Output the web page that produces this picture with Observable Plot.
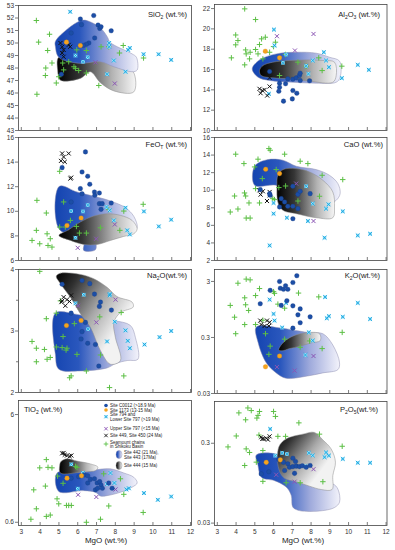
<!DOCTYPE html>
<html><head><meta charset="utf-8">
<script src="https://cdn.jsdelivr.net/npm/d3@7"></script>
<script src="https://cdn.jsdelivr.net/npm/@observablehq/plot@0.6"></script>
<style>
body{margin:0;background:#fff;font-family:"Liberation Sans",Arial,sans-serif;}
#chart{position:relative;width:395px;height:550px;overflow:hidden;background:#fff;}
.lab{position:absolute;font-size:7.6px;color:#222;white-space:nowrap;line-height:8px;}
.lab sub{font-size:5px;vertical-align:-1.5px;line-height:0;}
.xl{position:absolute;font-size:8px;color:#222;white-space:nowrap;line-height:8px;transform:translateX(-50%);}
</style></head>
<body><div id="chart"></div>
<script>
// ---------- tick values ----------
const MgO_ticks = [3,4,5,6,7,8,9,10,11,12];
const SiO2_ticks = [43,44,45,46,47,48,49,50,51,52,53];
const Al2O3_ticks = [10,12,14,16,18,20,22];
const FeO_ticks = [6,8,10,12,14,16];
const CaO_ticks = [2,4,6,8,10,12,14,16];
const Na2O_ticks = [2,3,4];
const Na2O_minor = [2.5,3.5];
const K2O_ticks = [0.03,0.3,3];
const TiO2_ticks = [0.6,6];
const P2O5_ticks = [0.03,0.3];

const panelLabels = ["SiO<sub>2</sub> (wt.%)","Al<sub>2</sub>O<sub>3</sub> (wt.%)","FeO<sub>T</sub> (wt.%)","CaO (wt.%)","Na<sub>2</sub>O(wt.%)","K<sub>2</sub>O(wt.%)","TiO<sub>2</sub> (wt.%)","P<sub>2</sub>O<sub>5</sub>(wt.%)"];
const xLabel = "MgO (wt.%)";
const legendLabels = ["Site C0012 (>18.9 Ma)","Site 1173 (13-15 Ma)","Site 794 and","Lower Site 797 (>19 Ma)","Upper Site 797 (<15 Ma)","Site 449, Site 450 (24 Ma)","Seamount chains","in Shikoku Basin","Site 442 (21 Ma),","Site 443 (17Ma)","Site 444 (15 Ma)"];

// ---------- SiO2 ----------
const SiO2_c0012 = [[6.14,51.92],[6.2,51.47],[6.85,52.2],[7.08,51.44],[7.17,51.17],[7.24,51.3],[7.78,50.98],[5.65,50.8],[6.9,50.4],[6.59,50.0],[6.46,49.9],[6.3,49.8],[5.13,47.5]];
const SiO2_s1173 = [[5.4,50.07],[6.14,49.8]];
const SiO2_s794 = [[5.6,52.5],[6.53,48.86],[6.28,48.5],[5.88,49.0],[7.67,50.0],[7.67,49.7],[7.92,48.6],[7.56,47.5],[8.54,47.7],[8.68,49.45],[8.77,49.6],[9.5,49.1],[10.3,49.1],[10.97,48.65]];
const SiO2_u797 = [[6.94,48.45],[7.97,46.76]];
const SiO2_s449 = [[5.08,50.0],[5.17,49.7],[5.25,49.45],[5.52,49.85],[5.6,49.7],[5.17,49.2],[5.25,48.9]];
const SiO2_smt = [[3.8,51.8],[3.92,50.07],[4.5,50.7],[4.4,49.4],[4.63,48.4],[4.3,48.0],[4.28,47.4],[4.86,46.8],[3.83,45.9],[4.99,47.3],[5.2,48.4],[5.25,47.85],[5.52,48.5],[5.8,48.1],[5.88,47.97],[6.05,47.8],[6.46,47.6],[6.46,49.4],[5.95,49.45],[7.24,49.7],[7.65,49.7],[8.22,49.2],[8.42,49.8],[7.12,46.6],[9.5,48.8]];
const SiO2_f442 = [[4.81,50.12],[5.52,51.2],[6.23,51.82],[6.59,51.74],[7.21,51.2],[7.56,50.53],[7.74,50.04],[8.89,49.13],[9.12,48.86],[9.16,47.84],[8.89,47.7],[7.92,48.1],[7.21,48.5],[6.05,48.38],[4.99,48.86],[4.81,49.72]];
const SiO2_f444 = [[4.99,48.86],[5.96,48.65],[7.21,48.59],[8.27,48.11],[8.95,47.7],[8.98,46.09],[7.92,46.17],[7.21,46.82],[6.67,47.7],[6.14,47.17],[5.08,47.03],[4.93,47.84]];

// ---------- Al2O3 ----------
const Al2O3_c0012 = [[5.79,15.8],[6.32,14.66],[6.64,14.6],[6.76,15.08],[7.03,15.05],[7.21,15.18],[7.38,15.41],[7.42,15.64],[7.42,14.92],[7.92,14.89],[6.32,14.26],[6.28,13.87],[7.03,13.93],[7.24,13.67],[6.53,12.89],[7.0,13.11]];
const Al2O3_s1173 = [[5.56,17.8],[6.32,17.15]];
const Al2O3_s794 = [[6.02,19.93],[6.05,18.36],[6.5,16.66],[6.67,17.48],[7.74,16.36],[7.86,15.57],[8.09,16.89],[8.68,17.7],[8.8,16.89],[8.95,16.23],[9.64,15.15],[10.49,16.46],[11.08,15.97],[5.75,13.61]];
const Al2O3_u797 = [[6.18,19.28],[7.14,17.87],[8.13,19.5]];
const Al2O3_s449 = [[5.25,14.1],[5.4,13.93],[5.31,13.67],[5.52,14.0],[5.66,13.44],[5.79,14.33],[5.79,15.18]];
const Al2O3_smt = [[4.46,21.97],[5.04,20.92],[3.98,19.4],[4.1,18.85],[3.98,18.43],[3.75,17.15],[4.51,17.93],[4.54,17.54],[4.72,17.05],[4.75,17.7],[5.04,17.97],[5.25,18.46],[5.36,19.02],[5.56,19.18],[5.17,17.54],[4.46,16.46],[5.79,17.7],[6.0,18.26],[6.1,18.69],[6.64,17.48],[6.32,15.41],[7.3,16.72],[7.74,16.33],[8.41,17.15],[8.59,15.9],[9.64,16.33],[5.43,17.05]];
const Al2O3_f442 = [[4.86,16.07],[5.25,16.95],[6.14,17.54],[7.21,17.7],[8.27,17.61],[8.98,17.21],[9.52,16.82],[9.55,15.25],[9.34,14.75],[8.27,14.66],[7.03,14.75],[5.79,14.92],[5.17,15.25]];
const Al2O3_f444 = [[5.25,15.9],[5.43,16.39],[5.96,16.72],[6.85,16.89],[7.74,16.95],[8.63,16.89],[9.25,16.72],[9.34,15.41],[9.16,14.75],[7.92,14.85],[6.85,15.08],[5.96,15.18],[5.34,15.41]];

// ---------- FeOT ----------
const FeO_c0012 = [[6.41,14.83],[5.17,13.55],[6.23,13.2],[6.53,12.85],[6.64,12.2],[6.14,11.84],[6.23,11.43],[6.89,11.57],[6.91,11.3],[7.15,11.49],[7.15,10.62],[7.3,10.62],[7.24,10.16],[7.78,10.67],[5.65,10.76]];
const FeO_s1173 = [[5.43,8.85],[6.18,9.45]];
const FeO_s794 = [[5.65,10.02],[6.28,9.99],[6.53,10.51],[5.88,7.85],[7.53,10.35],[7.7,10.08],[7.92,9.26],[8.54,10.29],[8.63,8.45],[8.77,8.12],[9.52,9.99],[10.31,8.77],[10.97,9.32]];
const FeO_u797 = [[6.0,7.03],[6.98,7.77],[7.97,8.93]];
const FeO_s449 = [[5.17,14.7],[5.25,14.42],[5.31,14.02],[5.52,14.7],[5.11,14.1],[5.65,12.74],[5.61,12.66]];
const FeO_smt = [[3.83,10.89],[5.04,13.25],[5.25,10.76],[4.33,9.86],[3.8,8.45],[3.57,7.63],[3.98,7.36],[4.37,8.17],[4.54,7.77],[4.42,7.22],[4.63,7.09],[5.04,8.72],[5.34,8.72],[5.61,9.26],[5.93,8.77],[6.09,8.23],[6.46,8.23],[7.21,8.66],[7.65,10.13],[8.24,8.45],[8.45,10.02],[9.48,10.57]];
const FeO_f442 = [[5.02,12.03],[5.96,11.57],[7.03,11.16],[7.74,10.84],[8.54,10.29],[8.98,9.59],[9.16,8.66],[8.89,8.31],[7.92,8.45],[7.03,7.63],[6.94,6.87],[6.32,6.82],[6.32,7.63],[5.0,8.58]];
const FeO_f444 = [[5.0,8.04],[5.52,8.5],[6.14,9.13],[6.85,9.61],[7.56,9.8],[8.27,9.67],[8.89,9.26],[9.16,8.58],[8.98,8.17],[8.45,7.96],[7.74,7.63],[7.03,7.3],[6.32,7.3],[5.61,7.63]];

// ---------- CaO ----------
const CaO_c0012 = [[5.29,10.07],[5.82,9.42],[5.79,9.61],[6.32,8.09],[6.41,9.04],[6.59,8.66],[6.76,8.17],[7.03,10.45],[7.03,8.17],[7.3,7.9],[7.3,9.53],[7.42,9.88],[7.95,9.61],[7.03,6.76]];
const CaO_s1173 = [[5.58,12.39],[6.32,11.89]];
const CaO_s794 = [[6.0,8.55],[6.0,7.33],[5.79,3.71],[6.71,6.87],[7.74,10.45],[8.09,8.47],[7.83,6.49],[8.8,7.9],[8.93,8.39],[8.72,4.59],[9.69,7.59],[10.49,4.85],[11.15,5.04]];
const CaO_u797 = [[8.13,6.49],[7.21,10.75]];
const CaO_s449 = [[5.25,9.99],[5.43,9.88],[5.79,9.8],[5.31,9.5],[5.79,9.42],[5.65,8.77]];
const CaO_smt = [[3.98,14.1],[4.42,13.03],[5.17,13.53],[5.75,14.74],[5.82,14.55],[6.59,14.1],[4.99,12.65],[6.14,12.35],[7.42,13.3],[7.83,13.03],[5.4,11.32],[6.28,10.3],[6.64,10.48],[5.04,10.18],[3.92,9.34],[4.45,9.69],[4.51,9.34],[4.69,8.55],[5.25,8.55],[5.96,9.04],[6.05,8.93],[3.69,7.52],[4.1,7.86],[4.54,6.83],[4.75,6.83],[8.45,9.31],[8.59,11.7],[9.69,11.21],[7.3,8.77]];
const CaO_f442 = [[4.99,12.73],[5.7,13.49],[6.5,13.41],[7.21,12.73],[8.27,12.35],[8.98,11.7],[9.43,10.75],[9.55,9.61],[9.34,8.85],[8.8,8.28],[7.74,7.9],[6.32,8.09],[6.23,10.45],[4.99,10.56]];
const CaO_f444 = [[6.23,11.7],[6.5,12.35],[7.21,12.46],[7.92,12.08],[8.63,11.13],[9.16,9.8],[9.25,8.09],[9.16,6.87],[8.27,6.87],[7.21,7.33],[6.5,7.71],[6.23,8.66],[6.18,10.37]];

// ---------- Na2O ----------
const Na2O_c0012 = [[5.17,3.76],[6.23,3.82],[6.64,3.77],[6.89,3.6],[7.21,3.47],[7.15,3.4],[7.79,3.34],[5.65,3.29],[6.41,3.14],[6.23,2.99],[6.18,2.87],[6.53,2.8],[6.94,2.78],[7.12,2.43]];
const Na2O_s1173 = [[5.4,3.09],[6.18,3.17]];
const Na2O_s794 = [[5.88,3.45],[6.32,3.59],[6.55,3.03],[7.7,3.6],[7.7,3.58],[7.56,2.83],[7.97,3.15],[8.54,3.01],[8.66,2.84],[8.77,2.72],[9.55,2.78],[10.35,2.9],[10.97,3.0]];
const Na2O_u797 = [[6.02,3.41],[6.99,3.14],[8.01,3.51]];
const Na2O_s449 = [[5.25,3.55],[5.17,3.49],[5.43,3.51],[5.34,3.41],[5.56,3.48],[5.65,3.58],[5.13,3.47]];
const Na2O_smt = [[3.98,3.97],[4.86,3.29],[4.33,3.2],[3.57,2.83],[3.8,2.72],[3.8,2.5],[4.23,2.7],[4.37,2.54],[4.54,2.57],[4.86,2.74],[5.22,2.91],[5.17,2.73],[5.38,2.69],[5.43,2.72],[5.65,2.27],[5.57,2.24],[5.82,3.12],[5.96,2.62],[6.46,2.35],[7.17,3.23],[7.21,2.61],[8.31,3.3],[8.45,2.27],[7.69,2.08],[5.08,3.49]];
const Na2O_f442 = [[4.81,3.29],[5.96,3.27],[7.21,3.2],[7.92,3.17],[8.8,3.09],[9.07,2.89],[9.2,2.54],[8.63,2.52],[8.01,2.47],[7.56,2.4],[6.14,2.35],[4.99,2.38],[4.81,2.62]];
const Na2O_f444 = [[4.86,3.89],[5.08,3.94],[6.14,3.92],[6.85,3.85],[7.56,3.71],[8.09,3.56],[8.89,3.47],[8.95,3.39],[8.27,3.3],[7.92,3.14],[8.0,2.9],[8.27,2.52],[7.74,2.46],[7.21,2.68],[6.67,3.06],[6.14,3.28],[5.61,3.55],[5.08,3.77]];

// ---------- K2O ----------
const K2O_c0012 = [[7.24,3.8],[6.32,3.0],[6.36,2.27],[6.53,2.17],[6.64,2.51],[6.76,2.17],[7.03,2.87],[5.82,2.08],[5.29,1.2],[6.41,1.12],[6.71,1.36],[7.03,1.1],[7.3,0.76],[7.42,0.97],[7.95,0.7],[7.42,0.55],[7.03,0.44]];
const K2O_s1173 = [[5.57,0.09],[6.32,0.14]];
const K2O_s794 = [[5.79,1.42],[6.0,0.79],[6.67,1.24],[6.05,0.6],[6.46,0.45],[7.88,0.37],[8.09,0.264],[7.7,0.146],[8.75,1.58],[8.84,0.66],[8.95,0.72],[9.69,0.7],[10.49,1.24],[11.15,0.64]];
const K2O_u797 = [[6.18,0.089],[7.12,0.077],[8.13,0.14]];
const K2O_s449 = [[5.29,0.6],[5.65,0.6],[5.79,0.56],[5.52,0.48],[5.75,0.48],[5.34,0.51]];
const K2O_smt = [[4.1,2.79],[4.54,3.3],[4.75,3.2],[5.25,2.24],[5.04,1.68],[4.46,1.53],[4.51,1.15],[4.67,0.91],[3.69,1.12],[3.92,0.69],[4.46,0.51],[5.04,0.51],[3.98,0.35],[6.0,1.97],[6.05,1.84],[6.23,1.18],[6.59,1.0],[7.33,1.86],[8.41,1.59],[5.57,0.35],[5.82,0.21],[5.75,0.15],[6.59,0.28],[7.42,0.2],[7.92,0.26],[8.59,0.19],[9.66,0.37],[5.43,0.61]];
const K2O_f442 = [[5.08,0.46],[6.41,0.44],[7.38,0.39],[7.92,0.365],[8.63,0.35],[9.16,0.22],[9.52,0.106],[9.43,0.08],[8.63,0.07],[7.74,0.061],[6.67,0.056],[6.14,0.07],[5.61,0.106],[5.17,0.247]];
const K2O_f444 = [[6.28,0.18],[6.53,0.247],[7.03,0.317],[7.74,0.365],[8.45,0.35],[8.49,0.264],[8.0,0.24],[7.38,0.208],[6.85,0.19],[6.46,0.173]];

// ---------- TiO2 ----------
const TiO2_c0012 = [[5.65,1.54],[6.05,1.59],[6.36,1.65],[6.53,1.62],[6.53,1.39],[6.67,1.5],[6.89,1.52],[7.03,1.39],[7.17,1.43],[6.94,1.2],[7.06,1.24],[7.24,1.33],[7.31,1.24],[7.65,1.39],[7.83,1.24]];
const TiO2_s1173 = [[5.43,1.54],[6.2,1.62]];
const TiO2_s794 = [[5.66,2.07],[6.0,1.23],[6.28,1.72],[7.74,1.72],[7.56,1.36],[7.95,1.39],[8.59,1.21],[8.72,1.24],[9.52,1.12],[10.26,0.97],[10.97,1.04]];
const TiO2_u797 = [[6.02,1.08],[6.99,1.03],[8.01,1.21]];
const TiO2_s449 = [[5.17,2.62],[5.31,2.54],[5.43,2.5],[5.57,2.46],[5.66,2.5],[5.25,2.64]];
const TiO2_smt = [[4.33,2.29],[3.98,1.92],[4.42,1.94],[4.63,1.92],[4.93,1.61],[5.22,1.38],[5.88,1.98],[5.96,1.94],[7.38,1.69],[8.27,1.52],[8.45,1.09],[3.66,1.2],[4.28,1.3],[4.9,0.99],[4.99,0.89],[3.8,0.8],[4.33,0.68],[4.54,0.7],[3.51,0.64],[5.4,0.86],[5.52,0.86],[5.66,0.86],[6.46,0.6],[7.21,0.64],[7.65,0.85],[9.48,0.74]];
const TiO2_f442 = [[4.9,1.72],[6.32,1.75],[7.03,1.85],[7.74,1.88],[8.45,1.72],[8.98,1.57],[9.16,1.39],[8.89,1.27],[8.27,1.14],[7.56,1.06],[7.21,1.05],[6.94,1.14],[6.32,1.18],[4.99,1.16]];
const TiO2_f444 = [[5.04,2.02],[5.11,2.2],[5.43,2.33],[5.96,2.22],[6.67,2.09],[7.07,1.95],[6.94,1.81],[6.32,1.77],[5.08,1.72]];

// ---------- P2O5 ----------
const P2O5_c0012 = [[5.34,0.124],[5.75,0.132],[6.28,0.188],[6.53,0.173],[6.76,0.166],[7.03,0.195],[7.17,0.177],[6.85,0.15],[7.03,0.153],[7.21,0.155],[7.38,0.153],[7.53,0.157],[7.74,0.15],[7.95,0.158],[7.12,0.126],[6.59,0.137]];
const P2O5_s1173 = [[5.61,0.173],[6.36,0.186]];
const P2O5_s794 = [[5.82,0.453],[6.09,0.21],[6.46,0.227],[6.71,0.22],[7.88,0.227],[8.09,0.211],[7.7,0.155],[8.72,0.201],[8.8,0.23],[8.95,0.21],[9.69,0.191],[10.49,0.171],[11.15,0.171]];
const P2O5_u797 = [[6.14,0.121],[7.12,0.099],[8.13,0.142]];
const P2O5_s449 = [[5.34,0.357],[5.47,0.34],[5.61,0.346],[5.79,0.366],[5.4,0.34],[5.7,0.333]];
const P2O5_smt = [[4.15,0.72],[4.63,0.83],[4.81,0.77],[5.25,0.75],[5.17,0.67],[5.11,0.62],[6.0,0.75],[6.1,0.65],[4.51,0.59],[3.57,0.27],[4.01,0.37],[4.54,0.255],[4.72,0.23],[4.46,0.158],[5.08,0.174],[5.43,0.243],[6.23,0.366],[6.64,0.366],[7.35,0.54],[8.45,0.39],[9.66,0.275],[5.43,0.1],[6.67,0.096],[7.42,0.096],[8.63,0.099],[5.22,0.38]];
const P2O5_f442 = [[5.08,0.214],[6.28,0.211],[6.41,0.137],[6.85,0.107],[8.09,0.098],[9.16,0.093],[9.43,0.08],[9.52,0.055],[9.25,0.047],[8.63,0.043],[7.92,0.042],[7.38,0.043],[7.03,0.0475],[6.94,0.067],[6.67,0.085],[6.05,0.102],[5.43,0.109],[5.29,0.118],[5.17,0.158]];
const P2O5_f444 = [[6.28,0.27],[6.67,0.34],[7.56,0.39],[8.18,0.41],[8.63,0.33],[9.07,0.255],[9.3,0.174],[9.16,0.118],[9.12,0.079],[8.54,0.079],[7.92,0.087],[7.21,0.099],[6.59,0.109],[6.28,0.143]];

// ---------- panel set-up (layout only) ----------
const S = (c0012,s1173,s794,u797,s449,smt,f442,f444) => ({c0012,s1173,s794,u797,s449,smt,f442,f444});
const panels = [
  {col:0, top:5,   bot:130, type:"linear", domain:[43,53],      ticks:SiO2_ticks,  minor:[], xl:false, grayFirst:true,  gg:"gGray", s:S(SiO2_c0012,SiO2_s1173,SiO2_s794,SiO2_u797,SiO2_s449,SiO2_smt,SiO2_f442,SiO2_f444), lab:{right:208, top:11}, text:panelLabels[0]},
  {col:1, top:4,   bot:130, type:"linear", domain:[10,22.4],    ticks:Al2O3_ticks, minor:[], xl:false, grayFirst:false, gg:"gGray", s:S(Al2O3_c0012,Al2O3_s1173,Al2O3_s794,Al2O3_u797,Al2O3_s449,Al2O3_smt,Al2O3_f442,Al2O3_f444), lab:{right:15, top:11}, text:panelLabels[1]},
  {col:0, top:137, bot:260, type:"linear", domain:[6,16],       ticks:FeO_ticks,   minor:[], xl:false, grayFirst:false, gg:"gGray", s:S(FeO_c0012,FeO_s1173,FeO_s794,FeO_u797,FeO_s449,FeO_smt,FeO_f442,FeO_f444), lab:{right:208, top:141}, text:panelLabels[2]},
  {col:1, top:137, bot:260, type:"linear", domain:[2,16],       ticks:CaO_ticks,   minor:[], xl:false, grayFirst:false, gg:"gGray", s:S(CaO_c0012,CaO_s1173,CaO_s794,CaO_u797,CaO_s449,CaO_smt,CaO_f442,CaO_f444), lab:{right:12, top:141}, text:panelLabels[3]},
  {col:0, top:269, bot:392, type:"linear", domain:[2,4],        ticks:Na2O_ticks,  minor:Na2O_minor, xl:false, grayFirst:false, gg:"gGrayD", s:S(Na2O_c0012,Na2O_s1173,Na2O_s794,Na2O_u797,Na2O_s449,Na2O_smt,Na2O_f442,Na2O_f444), lab:{right:208, top:272}, text:panelLabels[4]},
  {col:1, top:269, bot:393, type:"log",    domain:[0.03,4.9],   ticks:K2O_ticks,   minor:[], xl:false, grayFirst:false, gg:"gGray", s:S(K2O_c0012,K2O_s1173,K2O_s794,K2O_u797,K2O_s449,K2O_smt,K2O_f442,K2O_f444), lab:{right:15, top:272}, text:panelLabels[5]},
  {col:0, top:400, bot:525, type:"log",    domain:[0.56,8.1],   ticks:TiO2_ticks,  minor:[], xl:true,  grayFirst:false, gg:"gGray", s:S(TiO2_c0012,TiO2_s1173,TiO2_s794,TiO2_u797,TiO2_s449,TiO2_smt,TiO2_f442,TiO2_f444), lab:{left:24, top:406}, text:panelLabels[6]},
  {col:1, top:401, bot:525, type:"log",    domain:[0.028,1.0],  ticks:P2O5_ticks,  minor:[], xl:true,  grayFirst:false, gg:"gGrayD", s:S(P2O5_c0012,P2O5_s1173,P2O5_s794,P2O5_u797,P2O5_s449,P2O5_smt,P2O5_f442,P2O5_f444), lab:{right:17, top:406}, text:panelLabels[7]}
];

const chart = document.getElementById("chart");

// gradient definitions shared by all panels
const defsSvg = d3.select(chart).append("svg").attr("width",0).attr("height",0).style("position","absolute");
const defs = defsSvg.append("defs");
function grad(id, stops, x2=1, y2=0){
  const g = defs.append("linearGradient").attr("id",id).attr("x1",0).attr("y1",0).attr("x2",x2).attr("y2",y2);
  stops.forEach(([o,c]) => g.append("stop").attr("offset",o).attr("stop-color",c));
}
grad("gBlue", [[0,"#1444b0"],[0.3,"#2a57bd"],[0.65,"#a0abdc"],[1,"#f3f3fb"]]);
grad("gGray", [[0,"#000000"],[0.3,"#353535"],[0.7,"#b4b4b4"],[1,"#f6f6f6"]]);
grad("gGrayD", [[0,"#000000"],[0.25,"#303030"],[0.65,"#a8a8a8"],[1,"#f2f2f2"]], 0.8, 0.6);

const FONT = "'Liberation Sans', Arial, sans-serif";
const X = d => d[0], Y = d => d[1];

panels.forEach(p => {
  const L = p.col ? 195 : 0;
  const W = p.col ? 200 : 195;
  const fl = p.col ? 214 : 18, fr = p.col ? 386.5 : 191;
  const iw = fr - fl;
  const mt = 4, mb = p.xl ? 16 : 4;
  const ih = p.bot - p.top;
  const H = ih + mt + mb;
  const blue = Plot.line(p.s.f442, {x:X, y:Y, curve:"catmull-rom-closed", fill:"url(#gBlue)", stroke:"#8e8eb0", strokeWidth:0.5});
  const gray = Plot.line(p.s.f444, {x:X, y:Y, curve:"catmull-rom-closed", fill:`url(#${p.gg})`, stroke:"#8a8a8a", strokeWidth:0.5});
  const marks = p.grayFirst ? [gray, blue] : [blue, gray];
  marks.push(
    Plot.frame({stroke:"#444", strokeWidth:0.8}),
    Plot.tickX(MgO_ticks, {x:d=>d, insetTop: ih-3, stroke:"#444", strokeWidth:0.7}),
    Plot.tickY(p.ticks, {y:d=>d, insetLeft:-3, insetRight:iw, stroke:"#444", strokeWidth:0.7}),
    Plot.text(p.ticks, {y:d=>d, text:d=>String(d), frameAnchor:"left", textAnchor:"end", dx:-4.5, fontSize:6.5, fill:"#333"})
  );
  if (p.minor.length) marks.push(Plot.tickY(p.minor, {y:d=>d, insetLeft:-2, insetRight:iw, stroke:"#444", strokeWidth:0.7}));
  if (p.xl) marks.push(Plot.text(MgO_ticks, {x:d=>d, text:d=>String(d), frameAnchor:"bottom", lineAnchor:"top", dy:4, fontSize:6.5, fill:"#333"}));
  marks.push(
    Plot.dot(p.s.smt,   {x:X, y:Y, symbol:"plus",  r:1.9, stroke:"#5cbf45", strokeWidth:1}),
    Plot.dot(p.s.s794,  {x:X, y:Y, symbol:"square", r:2, fill:"#9be4fb", stroke:"none"}),
    Plot.dot(p.s.s794,  {x:X, y:Y, symbol:"times", r:1.9, stroke:"#18a2dc", strokeWidth:0.9}),
    Plot.dot(p.s.u797,  {x:X, y:Y, symbol:"times", r:2, stroke:"#8b55b4", strokeWidth:1}),
    Plot.dot(p.s.s449,  {x:X, y:Y, symbol:"times", r:2, stroke:"#111", strokeWidth:1}),
    Plot.dot(p.s.c0012, {x:X, y:Y, r:2.3, fill:"#1c4ea6", stroke:"#133a80", strokeWidth:0.3}),
    Plot.dot(p.s.s1173, {x:X, y:Y, r:2.3, fill:"#f5a41f", stroke:"#d98a10", strokeWidth:0.3})
  );
  const svg = Plot.plot({
    width: W, height: H,
    marginLeft: fl - L, marginRight: L + W - fr, marginTop: mt, marginBottom: mb,
    x: {domain:[2.85,12.05], axis:null},
    y: {type:p.type, domain:p.domain, axis:null},
    style: {background:"none", overflow:"visible", fontFamily:FONT},
    marks
  });
  svg.style.position = "absolute";
  svg.style.left = L + "px";
  svg.style.top = (p.top - mt) + "px";
  svg.style.maxWidth = "none";
  chart.appendChild(svg);
  const lab = document.createElement("div");
  lab.className = "lab";
  lab.innerHTML = p.text;
  lab.style.top = p.lab.top + "px";
  if (p.lab.left !== undefined) lab.style.left = p.lab.left + "px"; else lab.style.right = p.lab.right + "px";
  chart.appendChild(lab);
});

// x-axis titles
[106, 303].forEach(cx => {
  const d = document.createElement("div");
  d.className = "xl"; d.textContent = xLabel;
  d.style.left = cx + "px"; d.style.top = "537px";
  chart.appendChild(d);
});

// legend (inside TiO2 panel)
const leg = d3.select(chart).append("svg").attr("width",395).attr("height",550)
  .style("position","absolute").style("left",0).style("top",0).style("pointer-events","none")
  .style("font-family", FONT);
const textY = [405.5,410,414.5,419,428.7,435.5,442,446.5,452.2,457,465.5];
const textX = [110,110,110,110,110,110,110,110,124,124,124];
leg.selectAll("text").data(legendLabels).join("text")
  .attr("x",(d,i)=>textX[i]).attr("y",(d,i)=>textY[i]).attr("dy","0.35em")
  .attr("font-size",4.5).attr("fill","#222").text(d=>d);
const sym = (type, r) => d3.symbol(type, Math.PI*r*r)();
leg.append("circle").attr("cx",106).attr("cy",405.5).attr("r",1.8).attr("fill","#1c4ea6");
leg.append("circle").attr("cx",106).attr("cy",410).attr("r",1.8).attr("fill","#f5a41f");
leg.append("path").attr("transform","translate(106,416.7)").attr("d",sym(d3.symbolSquare,1.7)).attr("fill","#9be4fb");
leg.append("path").attr("transform","translate(106,416.7)").attr("d",sym(d3.symbolTimes,1.6)).attr("fill","none").attr("stroke","#18a2dc").attr("stroke-width",0.8);
leg.append("path").attr("transform","translate(106,428.7)").attr("d",sym(d3.symbolTimes,1.7)).attr("fill","none").attr("stroke","#8b55b4").attr("stroke-width",0.9);
leg.append("path").attr("transform","translate(106,435.5)").attr("d",sym(d3.symbolTimes,1.7)).attr("fill","none").attr("stroke","#111").attr("stroke-width",0.9);
leg.append("path").attr("transform","translate(106,444)").attr("d",sym(d3.symbolPlus,1.6)).attr("fill","none").attr("stroke","#5cbf45").attr("stroke-width",0.9);
leg.append("ellipse").attr("cx",119).attr("cy",454.5).attr("rx",3).attr("ry",4).attr("fill","url(#gBlue)").attr("stroke","#8e8eb0").attr("stroke-width",0.4);
leg.append("ellipse").attr("cx",119).attr("cy",465.5).attr("rx",3).attr("ry",4).attr("fill","url(#gGray)").attr("stroke","#8a8a8a").attr("stroke-width",0.4);
</script>
</body></html>
